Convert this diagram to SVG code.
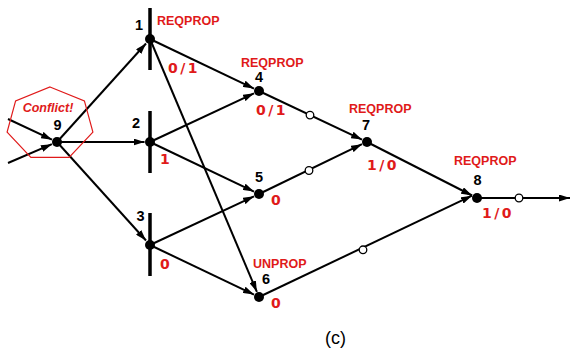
<svg xmlns="http://www.w3.org/2000/svg" width="577" height="352" viewBox="0 0 577 352">
<defs>
<marker id="ah" viewBox="0 0 11 7" refX="11" refY="3.5" markerWidth="11" markerHeight="7" markerUnits="userSpaceOnUse" orient="auto">
<path d="M0,0 L11,3.5 L0,7 z" fill="#000"/>
</marker>
<style>
.e{stroke:#000;stroke-width:2;fill:none;marker-end:url(#ah)}
.bar{stroke:#000;stroke-width:3.5}
.dot{fill:#000}
.oc{fill:#fff;stroke:#000;stroke-width:1.3}
.num{font-family:"Liberation Sans",Arial,sans-serif;font-weight:bold;font-size:14.5px;fill:#000;text-anchor:middle}
.st{font-family:"Liberation Sans",Arial,sans-serif;font-weight:bold;font-size:12.5px;fill:#e01a1a}
.val{font-family:"DejaVu Sans",sans-serif;font-weight:bold;font-size:14px;fill:#e01a1a;letter-spacing:2.5px}
</style>
</defs>
<rect width="577" height="352" fill="#fff"/>
<g id="connectors">
<line class="e" x1="8" y1="119" x2="52" y2="139.7"/>
<line class="e" x1="8" y1="163" x2="51.9" y2="144.2"/>
<line class="e" x1="57" y1="142" x2="146" y2="43.5"/>
<line class="e" x1="57" y1="142" x2="144.5" y2="142"/>
<line class="e" x1="57" y1="142" x2="146" y2="240.5"/>
<line class="e" x1="150" y1="39" x2="254" y2="88.6"/>
<line class="e" x1="150" y1="39" x2="256.9" y2="291.9"/>
<line class="e" x1="150" y1="142" x2="254" y2="93.3"/>
<line class="e" x1="150" y1="142" x2="254" y2="191.6"/>
<line class="e" x1="150" y1="245" x2="254" y2="196.3"/>
<line class="e" x1="150" y1="245" x2="254" y2="294.6"/>
<line class="e" x1="259" y1="91" x2="362" y2="139.6"/>
<line class="e" x1="259" y1="194" x2="362" y2="144.2"/>
<line class="e" x1="259" y1="297" x2="472" y2="195.7"/>
<line class="e" x1="367" y1="142" x2="472.1" y2="195.5"/>
<line class="e" x1="477" y1="198" x2="570" y2="198"/>
<circle class="oc" cx="310" cy="115.1" r="3.8"/>
<circle class="oc" cx="309" cy="170.5" r="3.8"/>
<circle class="oc" cx="363" cy="249.8" r="3.8"/>
<circle class="oc" cx="519" cy="198" r="3.8"/>
</g>
<g id="n9">
<polygon points="50,87 84.4,100.9 92.9,132.2 69.1,157.3 30.9,157.3 7.1,132.2 15.6,100.9" fill="none" stroke="#e01a1a" stroke-width="1.2"/>
<text x="48" y="112" font-family="Liberation Sans, Arial, sans-serif" font-weight="bold" font-style="italic" font-size="12.5" fill="#e01a1a" text-anchor="middle">Conflict!</text>
<circle class="dot" cx="57" cy="142" r="5"/>
<text class="num" x="57.5" y="130">9</text>
</g>
<g id="n1">
<line class="bar" x1="150" y1="8" x2="150" y2="70"/>
<circle class="dot" cx="150" cy="39" r="5"/>
<text class="num" x="139" y="30">1</text>
<text class="st" x="157" y="25">REQPROP</text>
<text class="val" x="168" y="73">0/1</text>
</g>
<g id="n2">
<line class="bar" x1="150" y1="111" x2="150" y2="173"/>
<circle class="dot" cx="150" cy="142" r="5"/>
<text class="num" x="136" y="128">2</text>
<text class="val" x="160" y="164">1</text>
</g>
<g id="n3">
<line class="bar" x1="150" y1="213" x2="150" y2="276"/>
<circle class="dot" cx="150" cy="245" r="5"/>
<text class="num" x="140.5" y="221">3</text>
<text class="val" x="160" y="269">0</text>
</g>
<g id="n4">
<circle class="dot" cx="259" cy="91" r="5"/>
<text class="num" x="259" y="82">4</text>
<text class="st" x="241" y="67">REQPROP</text>
<text class="val" x="256" y="115">0/1</text>
</g>
<g id="n5">
<circle class="dot" cx="259" cy="194" r="5"/>
<text class="num" x="259" y="182">5</text>
<text class="val" x="271" y="205">0</text>
</g>
<g id="n6">
<circle class="dot" cx="259" cy="297" r="5"/>
<text class="num" x="266" y="284">6</text>
<text class="st" x="253" y="268">UNPROP</text>
<text class="val" x="271" y="308">0</text>
</g>
<g id="n7">
<circle class="dot" cx="367" cy="142" r="5"/>
<text class="num" x="366" y="130">7</text>
<text class="st" x="349" y="113">REQPROP</text>
<text class="val" x="367" y="170">1/0</text>
</g>
<g id="n8">
<circle class="dot" cx="477" cy="198" r="5"/>
<text class="num" x="477.5" y="185">8</text>
<text class="st" x="454" y="165">REQPROP</text>
<text class="val" x="482" y="218">1/0</text>
</g>
<text x="335.5" y="344" font-family="Liberation Sans, Arial, sans-serif" font-size="18" fill="#000" text-anchor="middle">(c)</text>
</svg>
